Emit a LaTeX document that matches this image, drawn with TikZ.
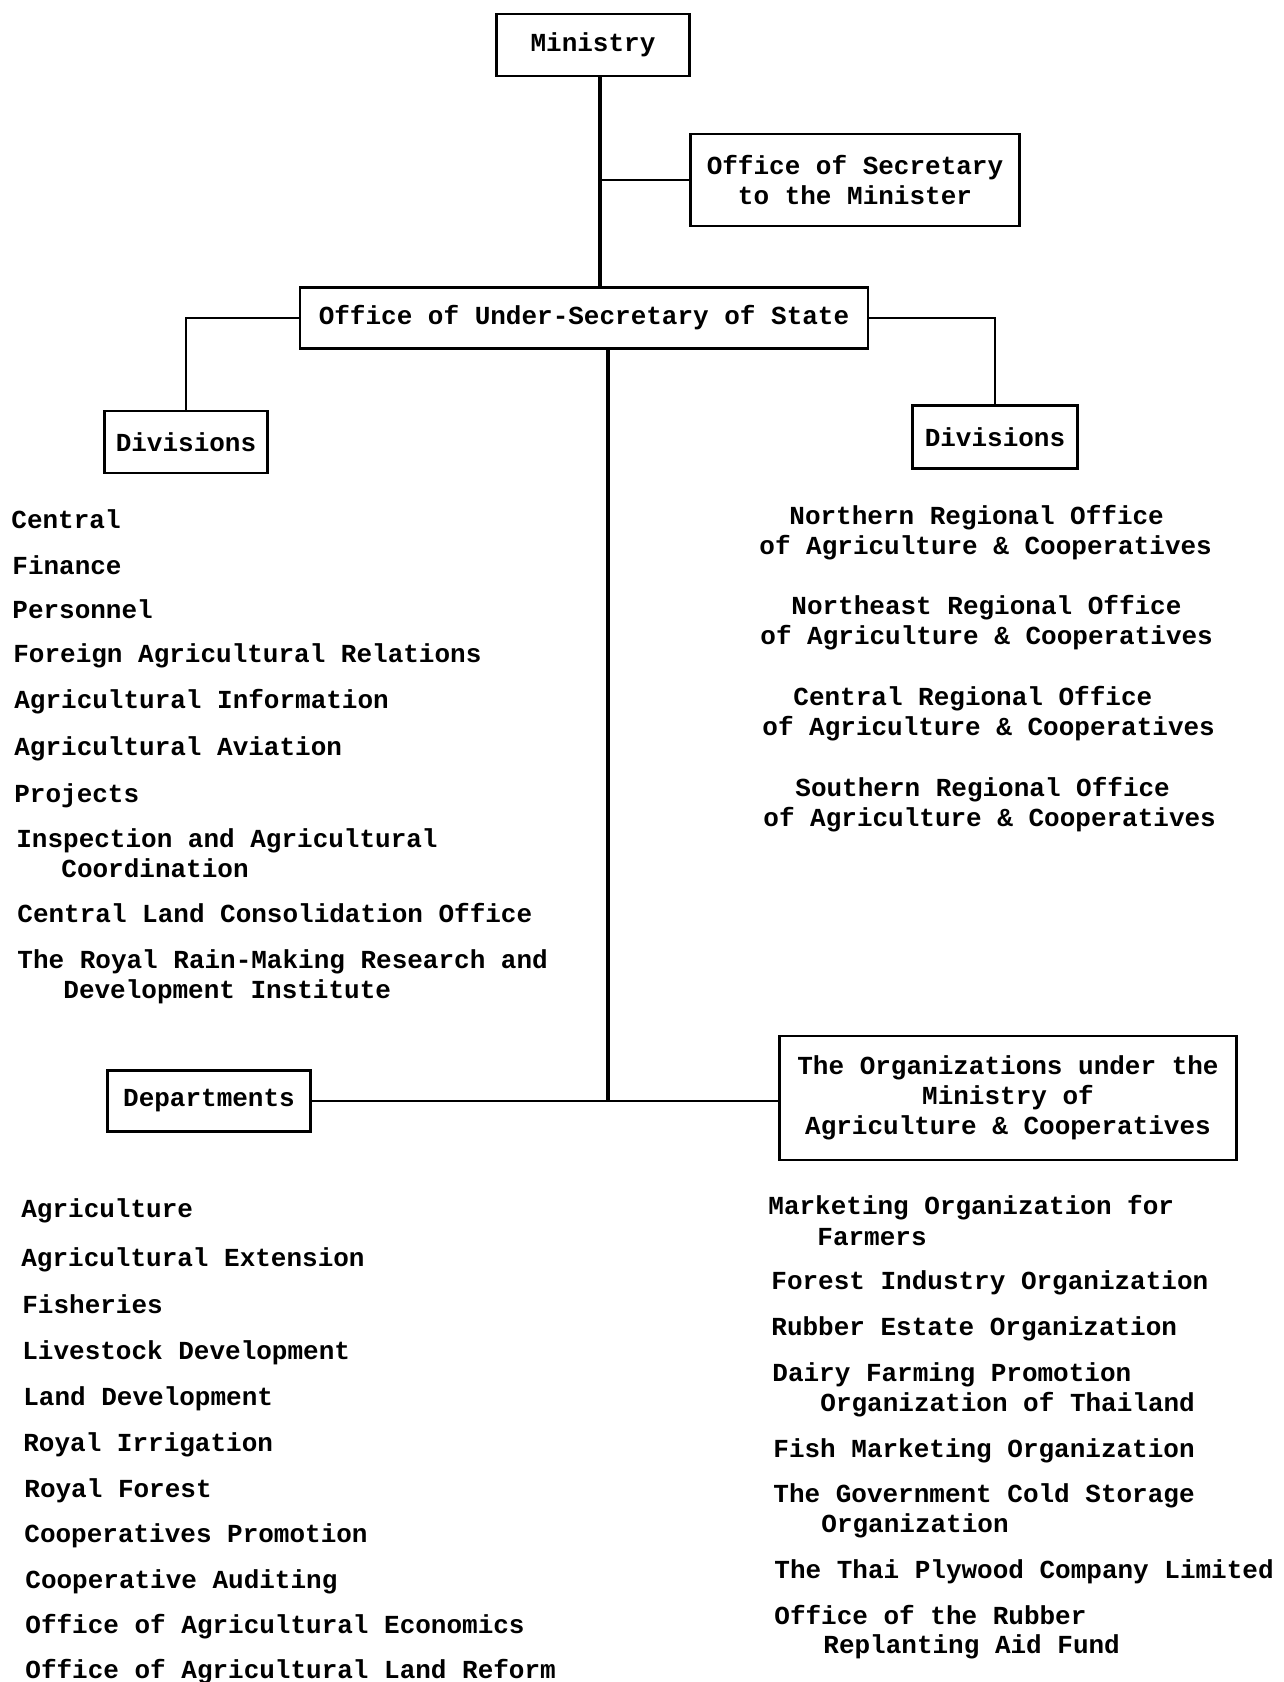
\documentclass[tikz,border=0pt]{standalone}
\usepackage{fontspec}
\setmainfont{Liberation Mono}
\begin{document}
\begin{tikzpicture}[x=0.5pt,y=-0.5pt,
  tw/.style={font=\fontsize{13}{15}\selectfont\bfseries},
  box/.style={tw, draw, line width=1.3pt, inner sep=0pt, align=center},
  item/.style={tw, anchor=west, inner sep=0pt, text height=10.5pt, text depth=1.5pt},
  trunk/.style={line width=2pt},
  link/.style={line width=1.1pt}]
\useasboundingbox[fill=white] (0,0) rectangle (1284,1682);

% boxes
\node[box, minimum width=96.5pt, minimum height=31pt] (min) at (593,45) {Ministry};
\node[box, minimum width=164.5pt, minimum height=46pt] (sec) at (855,180) {Office of Secretary\\to the Minister};
\node[box, minimum width=284pt, minimum height=30.5pt] (usec) at (584,318) {Office of Under-Secretary of State};
\node[box, minimum width=81.5pt, minimum height=31pt] (divL) at (186,442) {Divisions};
\node[box, minimum width=82.5pt, minimum height=31.5pt] (divR) at (995,437) {Divisions};
\node[box, minimum width=101.5pt, minimum height=30.5pt] (dep) at (209,1101) {Departments};
\node[box, minimum width=228.5pt, minimum height=62pt] (org) at (1008,1098) {The Organizations under the\\Ministry of\\Agriculture \& Cooperatives};

% connectors
\coordinate (t1) at (600,0);
\coordinate (t2) at (608,0);
\draw[trunk] (min.south -| t1) -- (usec.north -| t1);
\draw[link] (sec.west -| t1) -- (sec.west);
\draw[link] (usec.west) -| (divL.north);
\draw[link] (usec.east) -| (divR.north);
\draw[trunk] (usec.south -| t2) -- (dep.east -| t2);
\draw[link] (dep.east) -- (dep.east -| org.west);

% left divisions list
\node[item] (a1) at (11,519) {Central};
\node[item] (a2) at (12,565) {Finance};
\node[item] (a3) at (12,609) {Personnel};
\node[item] (a4) at (13,653) {Foreign Agricultural Relations};
\node[item] (a5) at (14,699) {Agricultural Information};
\node[item] (a6) at (14,746) {Agricultural Aviation};
\node[item] (a7) at (14,793) {Projects};
\node[item] (a8) at (16,838) {Inspection and Agricultural};
\node[item] (a8b) at (61,868) {Coordination};
\node[item] (a9) at (17,913) {Central Land Consolidation Office};
\node[item] (a10) at (17,959) {The Royal Rain-Making Research and};
\node[item] (a10b) at (63,989) {Development Institute};

% right divisions list
\node[item] (b1) at (789,515) {Northern Regional Office};
\node[item] (b1b) at (759,545) {of Agriculture \& Cooperatives};
\node[item] (b2) at (791,605) {Northeast Regional Office};
\node[item] (b2b) at (760,635) {of Agriculture \& Cooperatives};
\node[item] (b3) at (793,696) {Central Regional Office};
\node[item] (b3b) at (762,726) {of Agriculture \& Cooperatives};
\node[item] (b4) at (795,787) {Southern Regional Office};
\node[item] (b4b) at (763,817) {of Agriculture \& Cooperatives};

% departments list
\node[item] (c1) at (21,1208) {Agriculture};
\node[item] (c2) at (21,1257) {Agricultural Extension};
\node[item] (c3) at (22,1304) {Fisheries};
\node[item] (c4) at (22,1350) {Livestock Development};
\node[item] (c5) at (23,1396) {Land Development};
\node[item] (c6) at (23,1442) {Royal Irrigation};
\node[item] (c7) at (24,1488) {Royal Forest};
\node[item] (c8) at (24,1533) {Cooperatives Promotion};
\node[item] (c9) at (25,1579) {Cooperative Auditing};
\node[item] (c10) at (25,1624) {Office of Agricultural Economics};
\node[item] (c11) at (25,1669) {Office of Agricultural Land Reform};

% organizations list
\node[item] (d1) at (768,1205) {Marketing Organization for};
\node[item] (d1b) at (817,1236) {Farmers};
\node[item] (d2) at (771,1280) {Forest Industry Organization};
\node[item] (d3) at (771,1326) {Rubber Estate Organization};
\node[item] (d4) at (772,1372) {Dairy Farming Promotion};
\node[item] (d4b) at (820,1402) {Organization of Thailand};
\node[item] (d5) at (773,1448) {Fish Marketing Organization};
\node[item] (d6) at (773,1493) {The Government Cold Storage};
\node[item] (d6b) at (821,1523) {Organization};
\node[item] (d7) at (774,1569) {The Thai Plywood Company Limited};
\node[item] (d8) at (774,1615) {Office of the Rubber};
\node[item] (d8b) at (823,1644) {Replanting Aid Fund};
\end{tikzpicture}
\end{document}
